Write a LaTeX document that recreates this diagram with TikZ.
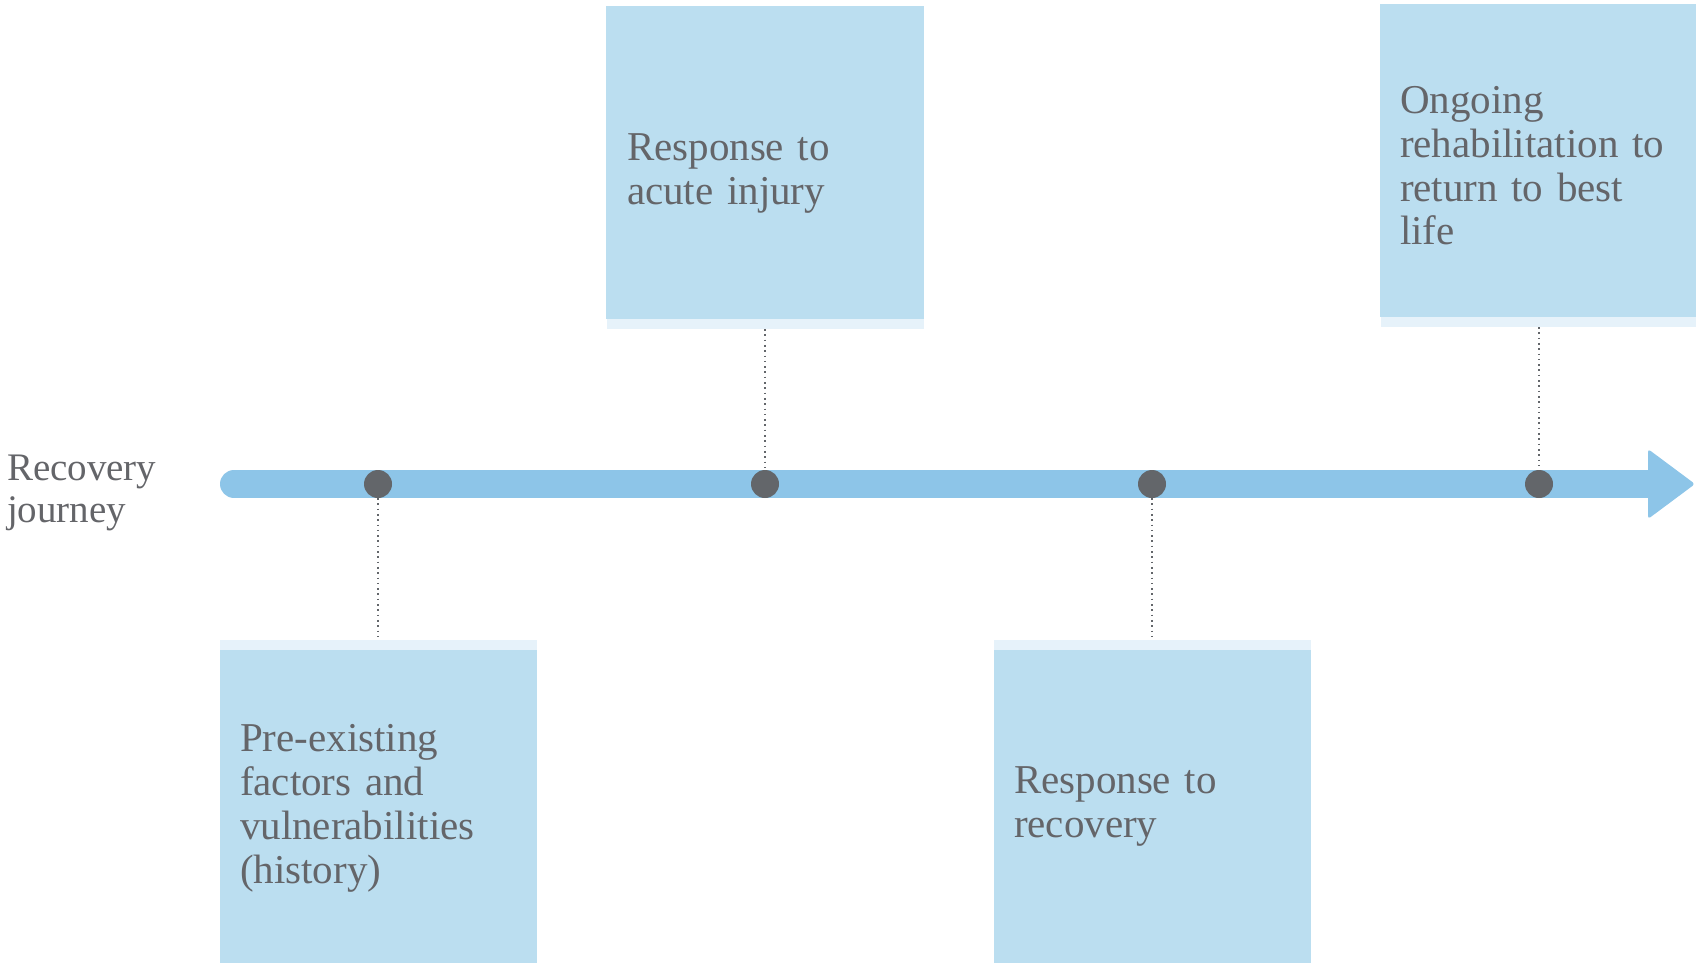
\documentclass[tikz,border=0pt]{standalone}
\usepackage{fontspec}
\setmainfont{Liberation Serif}
\definecolor{boxblue}{HTML}{BBDEF0}
\definecolor{stripblue}{HTML}{E6F2FA}
\definecolor{barblue}{HTML}{8DC5E8}
\definecolor{dotgray}{HTML}{63666A}
\definecolor{textgray}{HTML}{646569}
\tikzset{
  boxfill/.style={rectangle, fill=boxblue, draw=none, inner sep=0pt, outer sep=0pt, anchor=north west},
  stripfill/.style={rectangle, fill=stripblue, draw=none, inner sep=0pt, outer sep=0pt, anchor=north west, minimum height=5pt},
  tdot/.style={circle, fill=dotgray, draw=none, minimum size=14pt, inner sep=0pt, outer sep=0pt},
  conn/.style={draw=dotgray, line width=0.85pt, dash pattern=on 0.8pt off 1.85pt},
  lbl/.style={text=textgray, inner sep=0pt, outer sep=0pt, anchor=base west, text width=200pt, align=left, font=\fontsize{20.5}{22}\selectfont},
  bar/.style={draw=barblue, line width=14pt, line cap=round}
}
\begin{document}
\begin{tikzpicture}[x=0.5pt,y=-0.5pt]
\useasboundingbox (0,0) rectangle (1696,963);
% timeline bar
\coordinate (barstart) at (234,484);
\coordinate (barend) at (1650,484);
\draw[bar] (barstart) -- (barend);
\fill[barblue, rounded corners=1.5pt] (1648,449) -- (1695,484) -- (1648,519) -- cycle;
% boxes
\node[boxfill, minimum width=159pt, minimum height=156.5pt] (b1) at (606,6) {};
\node[stripfill, minimum width=158.5pt] (s1) at (607,319) {};
\node[boxfill, minimum width=158pt, minimum height=156.5pt] (b2) at (1380,4) {};
\node[stripfill, minimum width=157.5pt] (s2) at (1381,317) {};
\node[stripfill, minimum width=158.5pt] (s3) at (220,640) {};
\node[boxfill, minimum width=158.5pt, minimum height=156.5pt] (b3) at (220,650) {};
\node[stripfill, minimum width=158.5pt] (s4) at (994,640) {};
\node[boxfill, minimum width=158.5pt, minimum height=156.5pt] (b4) at (994,650) {};
% dots
\node[tdot] (d1) at (378,484) {};
\node[tdot] (d2) at (765,484) {};
\node[tdot] (d3) at (1152,484) {};
\node[tdot] (d4) at (1539,484) {};
% connectors
\draw[conn] (s1.south -| d2.center) -- (d2.north);
\draw[conn] (s2.south -| d4.center) -- (d4.north);
\draw[conn] (d1.south) -- (s3.north -| d1.center);
\draw[conn] (d3.south) -- (s4.north -| d3.center);
% texts
\node[lbl, font=\fontsize{19.5}{21}\selectfont] (title) at (7,480) {Recovery\\journey};
\node[lbl] (t1) at (627,160) {Response to\\acute injury};
\node[lbl] (t2) at (1400,113) {Ongoing\\rehabilitation to\\return to best\\life};
\node[lbl] (t3) at (240,751) {Pre-existing\\factors and\\vulnerabilities\\(history)};
\node[lbl] (t4) at (1014,793) {Response to\\recovery};
\end{tikzpicture}
\end{document}
